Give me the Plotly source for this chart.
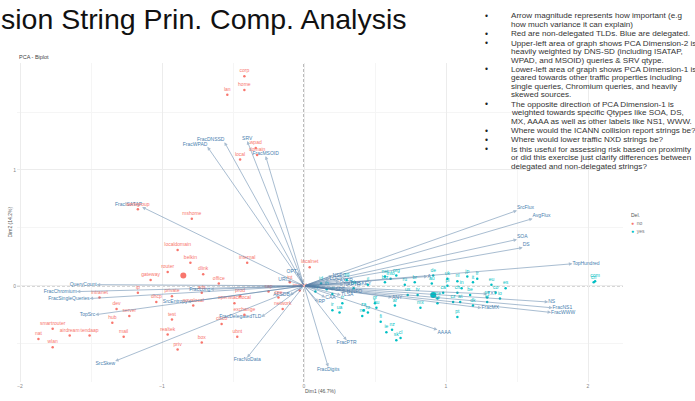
import plotly.graph_objects as go

# ---- variable loadings (arrows) ----
var_names = ["FracISATAP", "FracWPAD", "FracDNSSD", "SRV", "FracMSOID",
             "SrcFlux", "AvgFlux", "SOA", "DS", "TopHundred",
             "NS", "FracNS1", "FracWWW", "FracMX", "AAAA",
             "FracPTR", "FracDigits", "FracChromium", "QueryCount",
             "FracSingleQueries", "TopSrc", "SrcSkew", "FracNoData",
             "FracDelegatedTLD", "FracLong", "SrcEntropy", "A", "TXT", "ANY",
             "AXFR", "NAPTR", "SPF", "HINFO", "LOC", "TLSA", "CAA",
             "DNSKEY", "NSEC", "OPT", "URI", "RP", "AFSDB"]
var_x = [-1.14, -0.68, -0.56, -0.40, -0.27,
         1.50, 1.61, 1.50, 1.54, 1.89,
         1.72, 1.75, 1.74, 1.25, 0.94,
         0.30, 0.17, -1.60, -1.46,
         -1.51, -1.47, -1.33, -0.40,
         -0.30, -0.66, -0.82, 0.87, 1.29, 0.62,
         0.25, 0.28, 0.22, 0.30, 0.18, 0.26, 0.15,
         0.33, 0.20, -0.05, -0.12, 0.10, -0.10]
var_y = [0.68, 1.20, 1.24, 1.25, 1.12,
         0.65, 0.58, 0.40, 0.33, 0.19,
         -0.14, -0.19, -0.23, -0.19, -0.38,
         -0.47, -0.70, -0.05, 0.01,
         -0.11, -0.25, -0.65, -0.62,
         -0.27, -0.03, -0.14, 0.08, -0.07, -0.10,
         0.04, 0.01, -0.03, -0.05, 0.06, -0.08, -0.10,
         0.02, 0.09, 0.12, 0.05, -0.14, -0.08]

# ---- non-delegated strings ----
nd_labels = ["corp", "home", "lan", "wpad", "local", "domain", "mshome",
             "workgroup", "localdomain", "belkin", "router", "dlink",
             "gateway", "internal", "intranet", "ip", "private", "dhcp",
             "novalocal", "ads", "openstacklocal", "prod", "dev", "server",
             "hub", "test", "cisco", "exchange", "smartrouter", "nat",
             "airdream", "tendaap", "wlan", "mail", "realtek", "ubnt", "box",
             "priv", "localnet", "invalid", "int", "cpe", "sap", "office",
             "network"]
nd_x = [-0.42, -0.42, -0.54, -0.34, -0.45, -0.33, -0.79,
        -1.17, -0.89, -0.80, -0.96, -0.71,
        -1.08, -0.40, -1.44, -1.17, -0.93, -1.04,
        -0.78, -0.72, -0.49, -0.45, -1.32, -1.23,
        -1.35, -0.93, -0.58, -0.42, -1.77, -1.87,
        -1.65, -1.51, -1.77, -1.27, -0.96, -0.47, -0.72,
        -0.89, 0.04, -0.03, -0.10, -0.18, -0.25, -0.60,
        -0.15]
nd_y = [1.81, 1.69, 1.65, 1.19, 1.09, 1.13, 0.58,
        0.66, 0.31, 0.20, 0.12, 0.10,
        0.05, 0.20, -0.10, -0.06, -0.09, -0.14,
        -0.17, -0.06, -0.15, -0.09, -0.20, -0.26,
        -0.32, -0.29, -0.33, -0.25, -0.37, -0.46,
        -0.43, -0.43, -0.53, -0.44, -0.42, -0.44, -0.49,
        -0.55, 0.16, -0.04, 0.03, -0.10, -0.05, 0.02,
        -0.20]

# ---- delegated TLDs ----
d_labels = ["net", "org", "info", "biz", "de", "uk", "jp", "fr", "it", "nl",
            "ru", "br", "au", "pl", "in", "eu", "es", "ca", "ch", "be", "se",
            "io", "co", "us", "tv", "me", "cz", "at", "dk", "kr", "tw", "mx",
            "ar", "gr", "hu", "za", "ro", "no", "fi", "ie", "nz", "sk", "cl",
            "pt", "vn", "tr", "ua", "ir", "cn", "com", "id", "th", "my", "sg",
            "hk", "il"]
d_x = [0.57, 0.65, 0.61, 0.57, 0.91, 1.01, 1.15, 1.22, 1.19, 1.08,
       0.71, 0.78, 0.90, 1.01, 1.11, 1.32, 1.42, 0.98, 1.08, 1.17, 1.29,
       1.38, 1.35, 0.73, 0.80, 0.94, 1.05, 1.10, 1.19, 1.29, 0.94, 0.82,
       0.64, 0.50, 0.51, 0.42, 0.45, 0.41, 0.54, 0.58, 0.62, 0.65, 0.68,
       1.08, 0.20, 0.27, 0.25, 0.20, 2.04, 2.05, 0.12, 0.16, 0.08, 0.30,
       0.35, 0.45]
d_y = [0.08, 0.09, 0.06, 0.03, 0.09, 0.06, 0.08, 0.06, 0.03, 0.04,
       0.01, 0.03, 0.02, 0.00, -0.02, 0.01, -0.02, -0.06, -0.06, -0.08, -0.10,
       -0.11, -0.06, -0.08, -0.08, -0.11, -0.14, -0.14, -0.17, -0.14, -0.15, -0.19,
       -0.17, -0.15, -0.19, -0.21, -0.23, -0.26, -0.31, -0.40, -0.38, -0.47, -0.45,
       -0.27, -0.07, -0.15, -0.23, -0.21, 0.03, 0.04, 0.02, -0.03, -0.05, 0.05,
       -0.02, 0.01]

# group centres
mean_x = [-0.85, 0.91]
mean_y = [0.09, -0.08]
group_names = ["no", "yes"]

x_ticks = [-2, -1, 0, 1, 2]
y_ticks = [0, 1]

bullets = [
    ["Arrow magnitude represents how important (e.g",
     "how much variance it can explain)"],
    ["Red are non-delegated TLDs. Blue are delegated."],
    ["Upper-left area of graph shows PCA Dimension-2 is",
     "heavily weighted by DNS-SD (including ISATAP,",
     "WPAD, and MSOID) queries & SRV qtype."],
    ["Lower-left area of graph shows PCA Dimension-1 is",
     "geared towards other traffic properties including",
     "single queries, Chromium queries, and heavily",
     "skewed sources."],
    ["The opposite direction of PCA Dimension-1 is",
     "weighted towards specific Qtypes like SOA, DS,",
     "MX, AAAA as well as other labels like NS1, WWW."],
    ["Where would the ICANN collision report strings be?"],
    ["Where would lower traffic NXD strings be?"],
    ["Is this useful for assessing risk based on proximity",
     "or did this exercise just clarify differences between",
     "delegated and non-delegated strings?"],
]

RED = "#F8766D"
TEAL = "#00BFC4"
STEEL = "#4A7FB0"
ARROW = "rgba(85,125,165,0.5)"
FONT = "Liberation Sans, Arial, sans-serif"

W, H = 695, 401
ML, MR, MT, MB = 17, 72, 63, 13
PW, PH = W - ML - MR, H - MT - MB


def pxx(v):
    return (v - ML) / PW


def pxy(v):
    return (H - MB - v) / PH


fig = go.Figure()

# variable arrows
annotations = []
for vx, vy in zip(var_x, var_y):
    annotations.append(dict(
        x=vx, y=vy, ax=0, ay=0, xref="x", yref="y", axref="x", ayref="y",
        text="", showarrow=True, arrowhead=2, arrowsize=0.7, arrowwidth=1,
        arrowcolor=ARROW, standoff=0))


def label_pos(vx, vy):
    v = "top" if vy > 0.3 else ("bottom" if vy < -0.3 else "middle")
    h = "right" if vx >= 0 else "left"
    if v != "middle" and abs(vx) < 0.5:
        h = "center"
    return f"{v} {h}"


fig.add_trace(go.Scatter(
    x=var_x, y=var_y, mode="text", text=var_names,
    textposition=[label_pos(a, b) for a, b in zip(var_x, var_y)],
    textfont=dict(size=5, color=STEEL, family=FONT),
    showlegend=False, hoverinfo="skip"))

# individuals
fig.add_trace(go.Scatter(
    x=nd_x, y=nd_y, mode="markers+text", text=nd_labels,
    textposition="top center",
    marker=dict(size=2.5, color=RED),
    textfont=dict(size=5, color=RED, family=FONT),
    name=group_names[0], showlegend=False))
fig.add_trace(go.Scatter(
    x=d_x, y=d_y, mode="markers+text", text=d_labels,
    textposition="top center",
    marker=dict(size=2.5, color=TEAL),
    textfont=dict(size=5, color=TEAL, family=FONT),
    name=group_names[1], showlegend=False))
fig.add_trace(go.Scatter(
    x=mean_x, y=mean_y, mode="markers",
    marker=dict(size=6, color=[RED, TEAL]),
    showlegend=False, hoverinfo="skip"))

# dashed reference lines through the origin
shapes = [
    dict(type="line", xref="paper", yref="y", x0=0, x1=1, y0=0, y1=0,
         line=dict(color="#666", width=0.9, dash="3px,2px"), layer="below"),
    dict(type="line", xref="x", yref="paper", x0=0, x1=0, y0=0, y1=1,
         line=dict(color="#666", width=0.9, dash="3px,2px"), layer="below"),
]

# slide title
annotations.append(dict(
    xref="paper", yref="paper", x=pxx(-1), y=pxy(18), xanchor="left",
    yanchor="middle", text="sion String Prin. Comp. Analysis",
    showarrow=False, font=dict(size=28.5, color="#111", family=FONT)))

# plot title and axis titles
annotations.append(dict(
    xref="paper", yref="paper", x=pxx(17), y=pxy(57), xanchor="left",
    yanchor="middle", text="PCA - Biplot", showarrow=False,
    font=dict(size=5.5, color="#444", family=FONT)))
annotations.append(dict(
    xref="paper", yref="paper", x=0.5, y=pxy(397), xanchor="center",
    yanchor="middle", text="Dim1 (46.7%)", showarrow=False,
    font=dict(size=5, color="#555", family=FONT)))
annotations.append(dict(
    xref="paper", yref="paper", x=pxx(9), y=0.5, xanchor="center",
    yanchor="middle", text="Dim2 (14.2%)", showarrow=False, textangle=-90,
    font=dict(size=5, color="#555", family=FONT)))

# legend
annotations.append(dict(
    xref="paper", yref="paper", x=pxx(629), y=pxy(218), xanchor="left",
    yanchor="middle", text="Del.", showarrow=False,
    font=dict(size=5, color="#555", family=FONT)))
for i, (name, col) in enumerate(zip(group_names, [RED, TEAL])):
    annotations.append(dict(
        xref="paper", yref="paper", x=pxx(629), y=pxy(226 + 8 * i),
        xanchor="left", yanchor="middle",
        text=f"<span style='color:{col}'>●</span>  {name}", showarrow=False,
        font=dict(size=5, color="#777", family=FONT)))

# bullet notes
y_line = 15.0
for block in bullets:
    annotations.append(dict(
        xref="paper", yref="paper", x=pxx(487), y=pxy(y_line),
        xanchor="center", yanchor="middle", text="•", showarrow=False,
        font=dict(size=8.5, color="#222", family=FONT)))
    for line in block:
        annotations.append(dict(
            xref="paper", yref="paper", x=pxx(509), y=pxy(y_line),
            xanchor="left", yanchor="middle", text=line, showarrow=False,
            font=dict(size=8.1, color="#333", family=FONT)))
        y_line += 8.6
    y_line += 1.0

zero_x_px, unit_x = 304, 142
zero_y_px, unit_y = 290, 118
x_range = [(ML - zero_x_px) / unit_x, (W - MR - zero_x_px) / unit_x]
y_range = [(zero_y_px - (H - MB)) / unit_y, (zero_y_px - MT) / unit_y]

fig.update_layout(
    width=W, height=H,
    margin=dict(l=ML, r=MR, t=MT, b=MB),
    paper_bgcolor="white", plot_bgcolor="white",
    shapes=shapes, annotations=annotations,
    showlegend=False,
    xaxis=dict(range=x_range, tickvals=x_ticks, showline=False,
               zeroline=False, gridcolor="#ececec", gridwidth=0.6,
               tickfont=dict(size=5, color="#888", family=FONT),
               minor=dict(dtick=0.5, tick0=0, showgrid=True,
                          gridcolor="#f5f5f5", gridwidth=0.5),
               ticks="", ticklen=0),
    yaxis=dict(range=y_range, tickvals=y_ticks, showline=False,
               zeroline=False, gridcolor="#ececec", gridwidth=0.6,
               tickfont=dict(size=5, color="#888", family=FONT),
               minor=dict(dtick=0.5, tick0=0, showgrid=True,
                          gridcolor="#f5f5f5", gridwidth=0.5),
               ticks="", ticklen=0),
)

fig.write_html("out.html")
